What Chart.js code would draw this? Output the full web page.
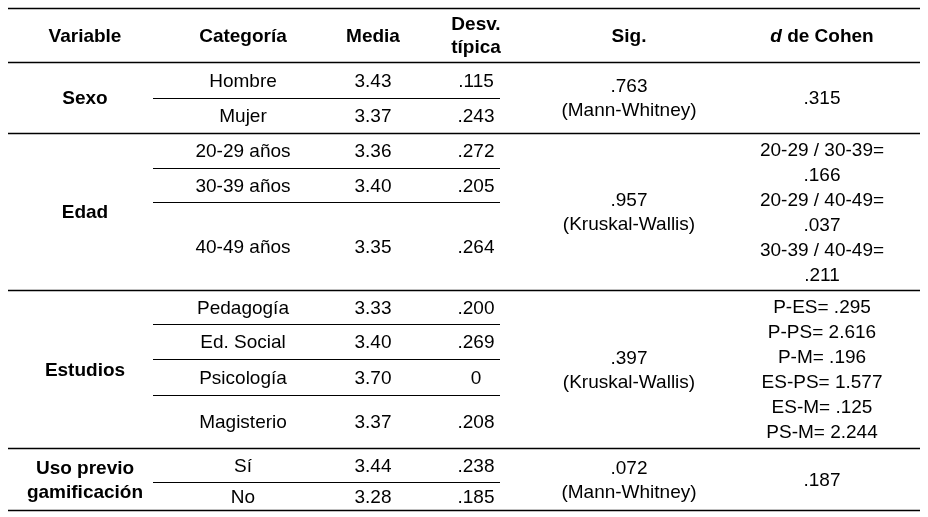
<!DOCTYPE html>
<html>
<head>
<meta charset="utf-8">
<script src="https://cdn.jsdelivr.net/npm/chart.js@4"></script>
<style>
  html, body { margin: 0; padding: 0; background: #fff; }
  #wrap { width: 928px; height: 517px; }
</style>
</head>
<body>
<div id="wrap"><canvas id="tbl"></canvas></div>
<script>
// table content
const headers = ["Variable", "Categoría", "Media", "Desv.\ntípica", "Sig.", "d de Cohen"];
const variables = ["Sexo", "Edad", "Estudios", "Uso previo\ngamificación"];
const categories = [
  ["Hombre", "Mujer"],
  ["20-29 años", "30-39 años", "40-49 años"],
  ["Pedagogía", "Ed. Social", "Psicología", "Magisterio"],
  ["Sí", "No"]
];
const means = [
  ["3.43", "3.37"],
  ["3.36", "3.40", "3.35"],
  ["3.33", "3.40", "3.70", "3.37"],
  ["3.44", "3.28"]
];
const stdDevs = [
  [".115", ".243"],
  [".272", ".205", ".264"],
  [".200", ".269", "0", ".208"],
  [".238", ".185"]
];
const sigs = [".763\n(Mann-Whitney)", ".957\n(Kruskal-Wallis)", ".397\n(Kruskal-Wallis)", ".072\n(Mann-Whitney)"];
const cohen = [
  ".315",
  "20-29 / 30-39=\n.166\n20-29 / 40-49=\n.037\n30-39 / 40-49=\n.211",
  "P-ES= .295\nP-PS= 2.616\nP-M= .196\nES-PS= 1.577\nES-M= .125\nPS-M= 2.244",
  ".187"
];

// layout (in canvas units)
const colX = [85, 243, 373, 476, 629, 822];
const headerTop = 8, headerBottom = 62;
const groupBounds = [[62, 133], [133, 290], [290, 448], [448, 510]];
const rowBounds = [
  [62, 98, 133],
  [133, 168, 202, 290],
  [290, 324, 359, 395, 448],
  [448, 482, 510]
];
const lineH = 25;
const FONT = "19px 'Liberation Sans', Arial, sans-serif";

const tablePlugin = {
  id: "tablePlugin",
  afterDraw(chart) {
    const { ctx, scales: { x, y } } = chart;
    const px = v => x.getPixelForValue(v), py = v => y.getPixelForValue(v);
    const text = (str, cx, cy, bold, lh) => {
      const lines = str.split("\n");
      const step = lh || lineH;
      ctx.font = (bold ? "bold " : "") + FONT;
      ctx.fillStyle = "#000";
      ctx.textAlign = "center";
      ctx.textBaseline = "middle";
      lines.forEach((l, i) => {
        const yy = cy + (i - (lines.length - 1) / 2) * step;
        if (l === "d de Cohen") {
          ctx.font = "italic bold " + FONT;
          const w1 = ctx.measureText("d").width;
          ctx.font = "bold " + FONT;
          const w2 = ctx.measureText(" de Cohen").width;
          const start = px(cx) - (w1 + w2) / 2;
          ctx.textAlign = "left";
          ctx.font = "italic bold " + FONT;
          ctx.fillText("d", start, py(yy));
          ctx.font = "bold " + FONT;
          ctx.fillText(" de Cohen", start + w1, py(yy));
          ctx.textAlign = "center";
        } else {
          ctx.fillText(l, px(cx), py(yy));
        }
      });
    };
    const hline = (yv, x0, x1, w) => {
      ctx.strokeStyle = "#000";
      ctx.lineWidth = w;
      ctx.beginPath();
      ctx.moveTo(px(x0), Math.round(py(yv)) + 0.5);
      ctx.lineTo(px(x1), Math.round(py(yv)) + 0.5);
      ctx.stroke();
    };
    ctx.save();
    headers.forEach((h, i) => text(h, colX[i], (headerTop + headerBottom) / 2 + 1.5, true, 23));
    hline(headerTop, 8, 920, 1.5);
    hline(headerBottom, 8, 920, 1.5);
    variables.forEach((v, g) => {
      const [g0, g1] = groupBounds[g];
      const gm = (g0 + g1) / 2 + 1.5;
      text(v, colX[0], gm, true, 24);
      text(sigs[g], colX[4], gm, false, 24);
      text(cohen[g], colX[5], gm, false);
      categories[g].forEach((c, r) => {
        const cy = (rowBounds[g][r] + rowBounds[g][r + 1]) / 2 + 1.5;
        text(c, colX[1], cy, false);
        text(means[g][r], colX[2], cy, false);
        text(stdDevs[g][r], colX[3], cy, false);
        if (r < categories[g].length - 1) hline(rowBounds[g][r + 1], 153, 500, 1.2);
      });
      hline(g1, 8, 920, 1.5);
    });
    ctx.restore();
  }
};

new Chart(document.getElementById("tbl"), {
  type: "scatter",
  data: { datasets: [{ data: [] }] },
  options: {
    responsive: true,
    maintainAspectRatio: false,
    animation: false,
    layout: { padding: 0 },
    plugins: { legend: { display: false }, tooltip: { enabled: false } },
    scales: {
      x: { type: "linear", min: 0, max: 928, display: false },
      y: { type: "linear", min: 0, max: 517, reverse: true, display: false }
    }
  },
  plugins: [tablePlugin]
});
</script>
</body>
</html>
